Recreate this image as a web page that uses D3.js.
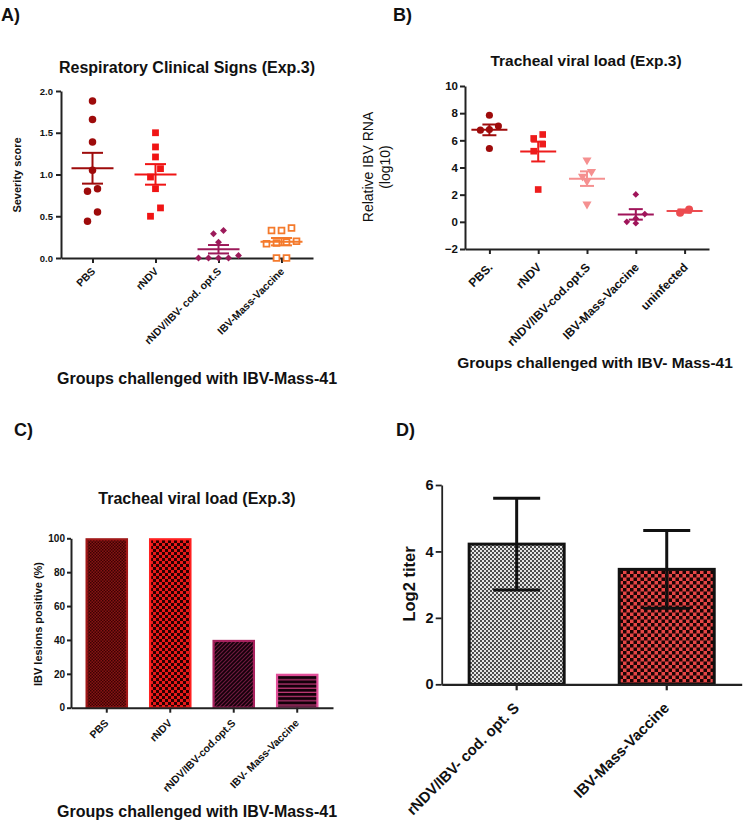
<!DOCTYPE html>
<html><head><meta charset="utf-8">
<script src="https://cdn.jsdelivr.net/npm/d3@7"></script>
<style>
body{margin:0;background:#fff}
text{font-family:"Liberation Sans",Arial,sans-serif;}
</style>
</head><body><svg id="c" width="750" height="822"></svg>
<script>
// ---------- DATA ----------
// Panel A: Respiratory clinical signs
const groupsA = ["PBS","rNDV","rNDV/IBV- cod. opt.S","IBV-Mass-Vaccine"];
const pbsA  = [1.88,1.66,1.39,1.05,0.83,0.80,0.55,0.44];
const rndvA = [1.50,1.33,1.21,1.07,0.97,0.83,0.60,0.50];
const codA  = [0.33,0.29,0.19,0.03,0.0,0.0,0.0,0.0];
const massA = [0.36,0.33,0.33,0.20,0.19,0.18,0.17,0.0,0.0];
const ticksA = [0,0.5,1.0,1.5,2.0];

// Panel B: Tracheal viral load
const groupsB = ["PBS.","rNDV","rNDV/IBV-cod.opt.S","IBV-Mass-Vaccine","uninfected"];
const pbsB   = [7.85,7.05,6.80,6.75,5.40];
const rndvB  = [6.43,6.14,5.72,5.20,2.38];
const codB   = [4.55,3.70,3.35,3.00,1.30];
const massB  = [2.02,0.57,0.25,0.00,-0.10];
const uninfB = [0.91,0.67];
const ticksB = [-2,0,2,4,6,8,10];

// Panel C: IBV lesions positive
const groupsC = ["PBS","rNDV","rNDV/IBV-cod.opt.S","IBV- Mass-Vaccine"];
const valuesC = [100,100,40,20];
const ticksC = [0,20,40,60,80,100];

// Panel D: Log2 titer
const groupsD = ["rNDV/IBV- cod. opt. S","IBV-Mass-Vaccine"];
const meansD = [4.22,3.46];
const errD   = [1.38,1.17];
const ticksD = [0,2,4,6];

// ---------- SETUP ----------
const svg = d3.select("#c");
const defs = svg.append("defs");
const INK = "#222";

function checker(id, s, c1, c2){
  const p = defs.append("pattern").attr("id",id).attr("patternUnits","userSpaceOnUse")
    .attr("width",s*2).attr("height",s*2);
  p.append("rect").attr("width",s*2).attr("height",s*2).attr("fill",c1);
  p.append("rect").attr("width",s).attr("height",s).attr("fill",c2);
  p.append("rect").attr("x",s).attr("y",s).attr("width",s).attr("height",s).attr("fill",c2);
}
checker("pC1", 1.5, "#861414", "#3c0202");
checker("pC2", 3, "#e81a1a", "#2a0000");
checker("pD1", 2, "#e4e4e4", "#4c4c4c");
checker("pD2", 3.5, "#e64646", "#1a0404");
{
  const p = defs.append("pattern").attr("id","pC3").attr("patternUnits","userSpaceOnUse").attr("width",4).attr("height",4);
  p.append("rect").attr("width",4).attr("height",4).attr("fill","#6e1a3e");
  p.append("path").attr("d","M-1,1 l2,-2 M0,4 l4,-4 M3,5 l2,-2").attr("stroke","#14000a").attr("stroke-width",1.7);
  const q = defs.append("pattern").attr("id","pC4").attr("patternUnits","userSpaceOnUse").attr("width",4).attr("height",4.2);
  q.append("rect").attr("width",4).attr("height",4.2).attr("fill","#14000a");
  q.append("rect").attr("y",3).attr("width",4).attr("height",1.2).attr("fill","#c23a78");
}

function styleAxis(g, w){
  g.selectAll(".domain").attr("stroke",INK).attr("stroke-width",w);
  g.selectAll(".tick line").attr("stroke",INK).attr("stroke-width",w);
}
function text(x,y,s,size,weight,anchor,rot){
  const t = svg.append("text").attr("font-size",size).attr("font-weight",weight||"bold")
    .attr("fill","#111").attr("text-anchor",anchor||"middle").text(s);
  if(rot) t.attr("transform",`translate(${x},${y}) rotate(${rot})`);
  else t.attr("x",x).attr("y",y);
  return t;
}
function rotLabels(g, size, ox, oy){
  g.selectAll(".tick text").attr("x",null).attr("y",null).attr("dy",null)
    .attr("text-anchor","end").attr("font-size",size).attr("font-weight","bold")
    .attr("font-family","Liberation Sans, Arial, sans-serif").attr("fill","#111")
    .attr("transform",`translate(${ox},${oy}) rotate(-45)`);
}
function yLabels(g,size){
  g.selectAll(".tick text").attr("font-size",size).attr("font-weight","bold")
   .attr("font-family","Liberation Sans, Arial, sans-serif").attr("fill","#111");
}
// rows of overlapping points spread symmetrically
function swarm(vals, y, d, step){
  const order = vals.map((v,i)=>({v,i,py:y(v)})).sort((a,b)=>b.v-a.v);
  const out = new Array(vals.length);
  let row=[];
  const flush=()=>{ row.forEach((p,j)=>{ out[p.i]=((row.length-1)/2-j)*step; }); row=[]; };
  for(const p of order){
    if(row.length && Math.abs(p.py-row[0].py)>=d) flush();
    row.push(p);
  }
  flush();
  return out;
}
function scatterPanel(cfg){
  const g = svg.append("g");
  cfg.series.forEach((s,k)=>{
    const cx = cfg.x(cfg.groups[k]);
    const offs = swarm(s.vals, cfg.y, cfg.d, cfg.step);
    const sym = d3.symbol().type(s.type).size(s.size);
    g.selectAll(null).data(s.vals).join("path")
      .attr("d",sym)
      .attr("transform",(v,i)=>`translate(${cx+offs[i]},${cfg.y(v)}) rotate(${s.rot||0})`)
      .attr("fill",s.open?"#fff":s.color)
      .attr("stroke",s.open?s.color:"none").attr("stroke-width",s.open?1.8:0);
    const m = d3.mean(s.vals);
    const sem = d3.deviation(s.vals)/Math.sqrt(s.vals.length);
    const lg = g.append("g").attr("stroke",s.color).attr("stroke-width",cfg.lw);
    lg.append("line").attr("x1",cx-cfg.mh).attr("x2",cx+cfg.mh).attr("y1",cfg.y(m)).attr("y2",cfg.y(m));
    lg.append("line").attr("x1",cx).attr("x2",cx).attr("y1",cfg.y(m-sem)).attr("y2",cfg.y(m+sem));
    [m-sem,m+sem].forEach(v=>lg.append("line").attr("x1",cx-cfg.ch).attr("x2",cx+cfg.ch).attr("y1",cfg.y(v)).attr("y2",cfg.y(v)));
  });
}

// ---------- PANEL LABELS ----------
[["A)",1,21],["B)",393,21],["C)",14,436],["D)",396,436]].forEach(([s,x,y])=>{
  svg.append("text").attr("x",x).attr("y",y).attr("font-family","Lato, 'Open Sans', sans-serif")
    .attr("font-weight","bold").attr("font-size",18).attr("fill","#111").text(s);
});

// ---------- PANEL A ----------
{
  const x = d3.scalePoint().domain(groupsA).range([61,313]).padding(0.5);
  const y = d3.scaleLinear().domain([0,2]).range([258,91]);
  const ya = svg.append("g").attr("transform","translate(61,0)")
    .call(d3.axisLeft(y).tickValues(ticksA).tickFormat(d3.format(".1f")).tickSize(5).tickSizeOuter(0).tickPadding(3));
  styleAxis(ya,2); yLabels(ya,9.5);
  const xa = svg.append("g").attr("transform","translate(0,258)")
    .call(d3.axisBottom(x).tickSize(5).tickSizeOuter(0));
  styleAxis(xa,2); rotLabels(xa,10.5,3,14);
  scatterPanel({x,y,groups:groupsA,d:9.5,step:10,lw:2,mh:21,ch:10.5,series:[
    {vals:pbsA,type:d3.symbolCircle,size:44,color:"#9e0b0b"},
    {vals:rndvA,type:d3.symbolSquare,size:46,color:"#f01414"},
    {vals:codA,type:d3.symbolSquare,size:24,rot:45,color:"#9c1a5a"},
    {vals:massA,type:d3.symbolSquare,size:34,color:"#f47a2c",open:true}
  ]});
  text(187,73,"Respiratory Clinical Signs (Exp.3)",16);
  text(21,175,"Severity score",11,"bold","middle",-90);
  text(197,384,"Groups challenged with IBV-Mass-41",16);
}

// ---------- PANEL B ----------
{
  const x = d3.scalePoint().domain(groupsB).range([465,709]).padding(0.5);
  const y = d3.scaleLinear().domain([-2,10]).range([249,86]);
  const ya = svg.append("g").attr("transform","translate(465,0)")
    .call(d3.axisLeft(y).tickValues(ticksB).tickFormat(d3.format("d")).tickSize(5).tickSizeOuter(0).tickPadding(2));
  styleAxis(ya,2); yLabels(ya,11.5);
  const xa = svg.append("g").attr("transform","translate(0,249)")
    .call(d3.axisBottom(x).tickSize(5).tickSizeOuter(0));
  styleAxis(xa,2); rotLabels(xa,12,3.5,19);
  scatterPanel({x,y,groups:groupsB,d:8,step:9,lw:2,mh:18,ch:7,series:[
    {vals:pbsB,type:d3.symbolCircle,size:40,color:"#9e0b0b"},
    {vals:rndvB,type:d3.symbolSquare,size:44,color:"#ee1c1c"},
    {vals:codB,type:d3.symbolTriangle,size:36,rot:180,color:"#f59090"},
    {vals:massB,type:d3.symbolSquare,size:22,rot:45,color:"#a0145a"},
    {vals:uninfB,type:d3.symbolCircle,size:50,color:"#ec4c50"}
  ]});
  text(586,66,"Tracheal viral load (Exp.3)",15.5);
  text(373,167,"Relative IBV RNA",14,"normal","middle",-90);
  text(390,167,"(log10)",14,"normal","middle",-90);
  text(595,368,"Groups challenged with IBV- Mass-41",15.5);
}

// ---------- PANEL C ----------
{
  const x = d3.scaleBand().domain(groupsC).range([71,333]).paddingInner(0.333).paddingOuter(0.23);
  const y = d3.scaleLinear().domain([0,100]).range([707.7,538.3]);
  const fills = ["url(#pC1)","url(#pC2)","url(#pC3)","url(#pC4)"];
  const strokes = ["#a01818","#ff2020","#a8225e","#e2509a"];
  svg.append("g").selectAll("rect").data(valuesC).join("rect")
    .attr("x",(d,i)=>x(groupsC[i])+1).attr("width",x.bandwidth()-2)
    .attr("y",d=>y(d)+1).attr("height",d=>y(0)-y(d)-1)
    .attr("fill",(d,i)=>fills[i]).attr("stroke",(d,i)=>strokes[i]).attr("stroke-width",2.2);
  const ya = svg.append("g").attr("transform","translate(71,0)")
    .call(d3.axisLeft(y).tickValues(ticksC).tickFormat(d3.format("d")).tickSize(4).tickSizeOuter(0).tickPadding(2));
  styleAxis(ya,2); yLabels(ya,10);
  const xa = svg.append("g").attr("transform","translate(0,707.7)")
    .call(d3.axisBottom(x).tickSize(5).tickSizeOuter(0));
  styleAxis(xa,2); rotLabels(xa,10.5,2.5,16);
  text(197,504,"Tracheal viral load (Exp.3)",16);
  text(42,624,"IBV lesions positive (%)",11,"bold","middle",-90);
  text(197,817,"Groups challenged with IBV-Mass-41",16);
}

// ---------- PANEL D ----------
{
  const x = d3.scaleBand().domain(groupsD).range([441.7,741.7]).paddingInner(0.347).paddingOuter(0.173);
  const y = d3.scaleLinear().domain([0,6]).range([684.3,485]);
  const fills = ["url(#pD1)","url(#pD2)"];
  svg.append("g").selectAll("rect").data(meansD).join("rect")
    .attr("x",(d,i)=>x(groupsD[i])+1.5).attr("width",x.bandwidth()-3)
    .attr("y",d=>y(d)).attr("height",d=>y(0)-y(d))
    .attr("fill",(d,i)=>fills[i]).attr("stroke","#111").attr("stroke-width",3);
  const eg = svg.append("g").attr("stroke","#111").attr("stroke-width",3);
  meansD.forEach((m,i)=>{
    const cx = x(groupsD[i])+x.bandwidth()/2;
    eg.append("line").attr("x1",cx).attr("x2",cx).attr("y1",y(m-errD[i])).attr("y2",y(m+errD[i]));
    [m-errD[i],m+errD[i]].forEach(v=>eg.append("line").attr("x1",cx-23.5).attr("x2",cx+23.5).attr("y1",y(v)).attr("y2",y(v)));
  });
  const ya = svg.append("g").attr("transform","translate(441.7,0)")
    .call(d3.axisLeft(y).tickValues(ticksD).tickFormat(d3.format("d")).tickSize(6).tickSizeOuter(0).tickPadding(2));
  styleAxis(ya,1.8); yLabels(ya,14.5);
  const xa = svg.append("g").attr("transform","translate(0,684.3)")
    .call(d3.axisBottom(x).tickSize(6).tickSizeOuter(0));
  styleAxis(xa,2.2); rotLabels(xa,15,3.5,24.5);
  text(415,584,"Log2 titer",16.5,"bold","middle",-90);
}
</script>
</body></html>
